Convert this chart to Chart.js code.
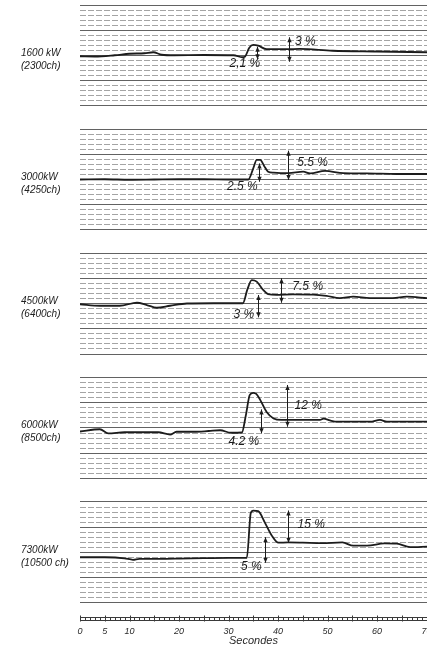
<!DOCTYPE html>
<html>
<head>
<meta charset="utf-8">
<script src="https://cdn.jsdelivr.net/npm/chart.js@4/dist/chart.umd.min.js"></script>
<style>
html,body{margin:0;padding:0;background:#fff;overflow:hidden}
canvas{display:block}
</style>
</head>
<body>
<canvas id="c" width="427" height="646"></canvas>
<script>
// ---------- data ----------
const loadKW = ['1600 kW', '3000kW', '4500kW', '6000kW', '7300kW'];
const loadCh = ['(2300ch)', '(4250ch)', '(6400ch)', '(8500ch)', '(10500 ch)'];
const xTickValues = [0, 5, 10, 20, 30, 40, 50, 60, 70];

// traces: time (s) and level (grid divisions, 0..20 inside each strip)
const t1 = [0, 3, 7, 10, 13, 14.8, 16.5, 19, 25, 31, 32.8, 33.3, 34.2, 35.0, 36.0, 37.7, 41.8, 44.4, 51, 60, 70.1];
const v1 = [9.8, 9.75, 10.0, 10.3, 10.4, 10.6, 10.1, 10.0, 10.05, 10.0, 9.6, 9.7, 11.5, 12.05, 11.9, 11.2, 11.2, 11.25, 10.9, 10.75, 10.6];

const t2 = [0, 5, 10, 15, 20, 25, 30, 34.0, 35.0, 35.7, 36.4, 37.2, 38.0, 39.1, 42.1, 45.1, 46.5, 49.5, 53.2, 57.9, 64, 70.1];
const v2 = [10.0, 10.05, 9.95, 10.0, 10.05, 10.05, 10.0, 10.0, 12.2, 13.9, 13.9, 12.7, 11.55, 11.35, 11.25, 11.55, 11.2, 11.7, 11.25, 11.2, 11.1, 11.1];

const t3 = [0, 4, 8, 11.5, 13.5, 15.5, 18.2, 21.6, 27, 32.9, 33.8, 34.7, 35.7, 37.0, 38.0, 39.7, 43, 47.1, 49.8, 52.5, 55.2, 58.6, 63.2, 66, 70.1];
const v3 = [9.9, 9.6, 9.6, 10.2, 9.75, 9.2, 9.6, 10.05, 10.1, 10.1, 12.8, 14.7, 14.4, 12.75, 11.9, 11.75, 11.85, 11.8, 11.55, 11.1, 11.4, 11.1, 11.1, 11.4, 11.1];

const t4 = [0, 4.0, 5.7, 9, 15.8, 18.2, 19.5, 23, 26, 28.3, 30.5, 32.7, 33.5, 34.3, 35.0, 35.6, 36.4, 37.7, 39.1, 40.7, 45, 48.5, 49.2, 50.5, 52, 58.6, 60.6, 62, 70.1];
const v4 = [9.3, 9.75, 8.95, 9.15, 9.15, 8.7, 9.25, 9.25, 9.4, 9.55, 9.05, 9.1, 12.5, 16.6, 17.0, 16.8, 15.6, 13.2, 11.9, 11.6, 11.6, 11.6, 11.85, 11.5, 11.25, 11.25, 11.6, 11.25, 11.25];

const t5 = [0, 5, 9, 10.7, 12, 16, 20, 25, 30, 33.7, 34.5, 35.0, 36.0, 37.4, 38.7, 40.1, 42, 45, 48.8, 53, 55.2, 58, 61.5, 64, 66.7, 70.1];
const v5 = [9.0, 9.0, 8.8, 8.5, 8.7, 8.7, 8.75, 8.85, 8.9, 8.9, 17.8, 18.3, 18.2, 15.8, 13.4, 11.9, 11.95, 11.9, 11.8, 11.95, 11.3, 11.3, 11.75, 11.7, 11.0, 11.1];

// annotations: overshoot (big arrow) and permanent rise (small arrow)
const peakPct    = ['3 %', '5.5 %', '7.5 %', '12 %', '15 %'];
const peakX      = [42.2, 42.1, 40.7, 41.8, 42.1];
const peakTop    = [13.57, 15.73, 15.06, 18.56, 18.3];
const peakBottom = [8.72, 9.9, 10.2, 10.26, 11.9];
const peakLabelX = [45.5, 47.0, 46.0, 46.1, 46.7];
const peakLabelY = [12.7, 13.4, 13.4, 14.4, 15.4];

const risePct    = ['2,1 %', '2.5 %', '3 %', '4.2 %', '5 %'];
const riseX      = [35.8, 36.2, 35.9, 36.6, 37.4];
const riseTop    = [11.7, 13.2, 11.74, 13.7, 13.0];
const riseBottom = [9.2, 9.56, 7.3, 8.95, 7.9];
const riseLabelX = [33.3, 32.8, 33.1, 33.1, 34.6];
const riseLabelY = [8.26, 8.57, 7.76, 7.3, 7.1];

// ---------- layout / style ----------
const FONT = '"Liberation Sans", Arial, sans-serif';
const INK = '#1c1c1c';
const SOLID = '#626262';
const DASHED = '#a4a4a4';
const DIVS = 20;            // grid divisions per strip
const PITCH = 24.726;       // strip spacing in divisions
const Y_MIN = -2.289, Y_MAX = 119.9;
const base = k => (4 - k) * PITCH;

const times = [t1, t2, t3, t4, t5];
const levels = [v1, v2, v3, v4, v5];

const gridTicks = [];
for (let kk = 0; kk < 5; kk++) {
  for (let j = 0; j <= DIVS; j++) gridTicks.push(kk * PITCH + j);
}

const datasets = times.map((t, k) => ({
  data: t.map((s, i) => ({ x: s, y: base(k) + levels[k][i] })),
  borderColor: INK,
  borderWidth: 1.8,
  pointRadius: 0,
  fill: false,
  cubicInterpolationMode: 'monotone'
}));

const overlay = {
  id: 'overlay',
  afterDatasetsDraw(chart) {
    const { ctx, scales: { x, y }, chartArea } = chart;
    ctx.save();
    ctx.strokeStyle = INK;
    ctx.fillStyle = INK;
    ctx.lineWidth = 1;
    const arrow = (sx, yt, yb) => {
      const px = Math.round(x.getPixelForValue(sx)) + 0.5;
      const p1 = y.getPixelForValue(yt), p2 = y.getPixelForValue(yb);
      ctx.beginPath(); ctx.moveTo(px, p1); ctx.lineTo(px, p2); ctx.stroke();
      ctx.beginPath(); ctx.moveTo(px, p1); ctx.lineTo(px - 2.2, p1 + 5); ctx.lineTo(px + 2.2, p1 + 5); ctx.closePath(); ctx.fill();
      ctx.beginPath(); ctx.moveTo(px, p2); ctx.lineTo(px - 2.2, p2 - 5); ctx.lineTo(px + 2.2, p2 - 5); ctx.closePath(); ctx.fill();
    };
    ctx.font = 'italic 12px ' + FONT;
    ctx.textAlign = 'center';
    ctx.textBaseline = 'middle';
    for (let k = 0; k < 5; k++) {
      const b = base(k);
      arrow(peakX[k], b + peakTop[k], b + peakBottom[k]);
      arrow(riseX[k], b + riseTop[k], b + riseBottom[k]);
      ctx.fillText(peakPct[k], x.getPixelForValue(peakLabelX[k]), y.getPixelForValue(b + peakLabelY[k]));
      ctx.fillText(risePct[k], x.getPixelForValue(riseLabelX[k]), y.getPixelForValue(b + riseLabelY[k]));
    }
    // time ruler
    const b0 = chartArea.bottom;
    const top = Math.round(b0 + 3) + 0.5, bot = Math.round(b0 + 6) + 0.5;
    const xl = x.getPixelForValue(0), xr = chartArea.right;
    ctx.strokeStyle = '#3a3a3a';
    ctx.beginPath();
    ctx.moveTo(xl, top); ctx.lineTo(xr, top);
    ctx.moveTo(xl, bot); ctx.lineTo(xr, bot);
    for (let s = 0; s <= Math.floor(x.max); s++) {
      const px = Math.round(x.getPixelForValue(s)) + 0.5;
      if (s % 5 === 0) { ctx.moveTo(px, top - 2); ctx.lineTo(px, bot + 1); }
      else { ctx.moveTo(px, top); ctx.lineTo(px, bot); }
    }
    ctx.stroke();
    ctx.restore();
  }
};

new Chart(document.getElementById('c'), {
  type: 'line',
  data: { datasets },
  options: {
    responsive: false,
    devicePixelRatio: 1,
    animation: false,
    layout: { padding: { left: 21, right: 0, top: 0, bottom: 0 } },
    plugins: { legend: { display: false }, tooltip: { enabled: false } },
    scales: {
      x: {
        type: 'linear',
        min: 0,
        max: 70.1,
        afterBuildTicks: s => { s.ticks = xTickValues.map(v => ({ value: v })); },
        afterFit: s => { s.height = 32; s.paddingLeft = 0; s.paddingRight = 0; },
        grid: { display: false, drawTicks: true, tickLength: 12 },
        border: { display: false },
        ticks: {
          autoSkip: false, maxRotation: 0, minRotation: 0, padding: 0,
          color: '#2a2a2a',
          font: { family: FONT, style: 'italic', size: 9 }
        },
        title: {
          display: true, text: 'Secondes', color: '#2a2a2a', padding: 0,
          font: { family: FONT, style: 'italic', size: 11, lineHeight: 1 }
        }
      },
      y: {
        type: 'linear',
        min: Y_MIN,
        max: Y_MAX,
        afterBuildTicks: s => { s.ticks = gridTicks.map(v => ({ value: v })); },
        afterFit: s => { s.width = 59; s.paddingTop = 0; s.paddingBottom = 0; },
        grid: {
          drawTicks: false,
          lineWidth: 1,
          color: c => ((c.index % (DIVS + 1)) % 5 === 0 ? SOLID : DASHED)
        },
        border: {
          display: false,
          dash: c => ((c.index % (DIVS + 1)) % 5 === 0 ? [] : [6, 2])
        },
        ticks: {
          autoSkip: false,
          crossAlign: 'far',
          padding: 0,
          labelOffset: 4,
          color: '#222',
          font: { family: FONT, style: 'italic', size: 10, lineHeight: 1.3 },
          callback: (v, i) => {
            const j = i % (DIVS + 1);
            const k = 4 - Math.floor(i / (DIVS + 1));
            return j === 10 ? [loadKW[k], loadCh[k]] : '';
          }
        }
      }
    }
  },
  plugins: [overlay]
});
</script>
</body>
</html>
